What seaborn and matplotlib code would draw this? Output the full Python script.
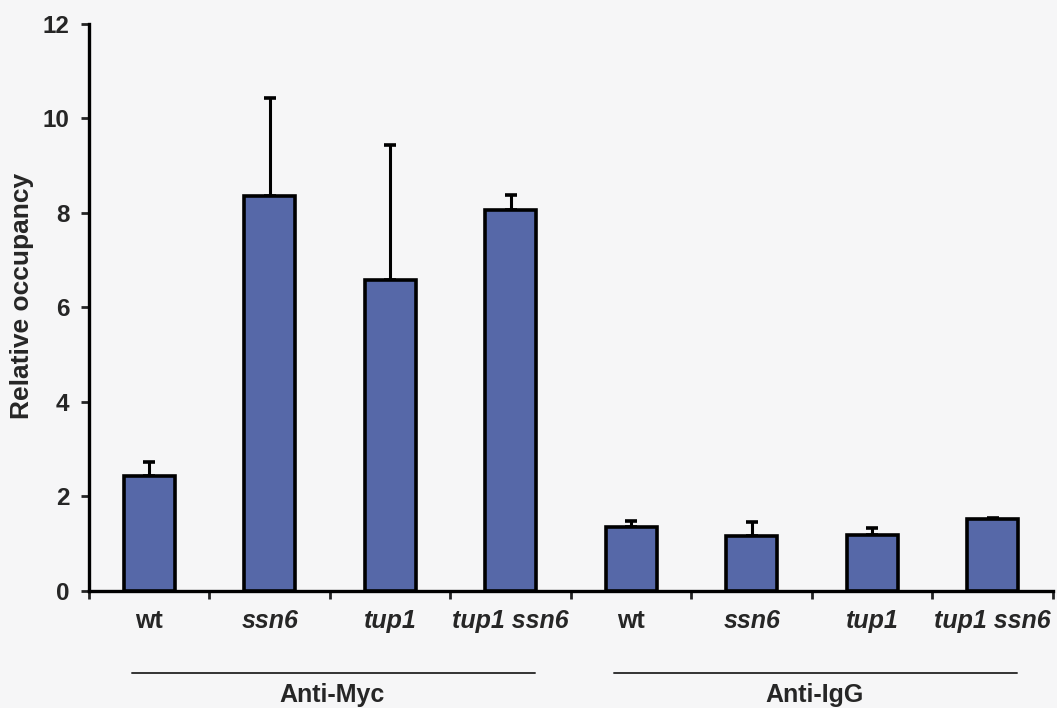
import numpy as np
import pandas as pd
import matplotlib
matplotlib.use("Agg")
import matplotlib.pyplot as plt
import seaborn as sns

# Strains and antibodies
strains = ["wt", "ssn6", "tup1", "tup1 ssn6", "wt", "ssn6", "tup1", "tup1 ssn6"]
antibodies = ["Anti-Myc"] * 4 + ["Anti-IgG"] * 4
occupancy = [2.43, 8.36, 6.58, 8.06, 1.35, 1.16, 1.19, 1.52]
error_up = [0.30, 2.07, 2.86, 0.32, 0.13, 0.30, 0.14, 0.02]
group_names = ["Anti-Myc", "Anti-IgG"]

sns.set_theme(style="ticks")
plt.rcParams["font.family"] = ["Liberation Sans", "DejaVu Sans"]

df = pd.DataFrame({
    "slot": [str(i) for i in range(len(strains))],
    "strain": strains,
    "antibody": antibodies,
    "occupancy": occupancy,
    "err": error_up,
})

bg = "#f6f6f7"
bar_color = "#5668a8"

fig = plt.figure(figsize=(10.57, 7.08), dpi=100, facecolor=bg)
ax = fig.add_axes([0.0842, 0.1653, 0.9120, 0.8008])
ax.set_facecolor(bg)

sns.barplot(data=df, x="slot", y="occupancy", color=bar_color, width=0.42,
            edgecolor="black", linewidth=2.6, saturation=1, errorbar=None, ax=ax, zorder=3)

# Upper-only error bars
xpos = np.arange(len(strains))
ax.errorbar(xpos, df["occupancy"], yerr=[np.zeros(len(strains)), df["err"]],
            fmt="none", ecolor="black", elinewidth=2.2, capsize=4, capthick=2.6, zorder=2)

ax.set_xlim(-0.5, len(strains) - 0.5)
ax.set_ylim(0, 12)
ax.set_yticks(np.arange(0, 13, 2))
ax.tick_params(axis="y", length=6, width=2, labelsize=17.5, pad=8)
for lab in ax.get_yticklabels():
    lab.set_fontweight("bold")

# Strain labels at bar centres, tick marks at category boundaries
ax.set_xticks(xpos)
ax.set_xticklabels(strains)
ax.tick_params(axis="x", which="major", length=0, labelsize=18, pad=13)
for lab, s in zip(ax.get_xticklabels(), strains):
    lab.set_fontweight("bold")
    if s != "wt":
        lab.set_fontstyle("italic")
ax.set_xticks(np.arange(-0.5, len(strains)), minor=True)
ax.tick_params(axis="x", which="minor", length=6, width=2)

ax.set_xlabel("")
ax.set_ylabel("Relative occupancy", fontsize=19, fontweight="bold", labelpad=5)
ax.yaxis.set_label_coords(-0.057, 0.52)

for side in ["left", "bottom"]:
    ax.spines[side].set_linewidth(2.4)
    ax.spines[side].set_color("black")
sns.despine(ax=ax)

# Antibody group brackets beneath the strain labels
trans = ax.get_xaxis_transform()
for g, name in enumerate(group_names):
    lo, hi = g * 4 - 0.14, g * 4 + 3.2
    ax.plot([lo, hi], [-0.145, -0.145], transform=trans, color="#333333",
            linewidth=1.4, clip_on=False)
    ax.text((g * 4 + 1.52), -0.163, name, transform=trans, ha="center", va="top",
            fontsize=18, fontweight="bold")

fig.savefig("out.png", dpi=100, facecolor=bg)
